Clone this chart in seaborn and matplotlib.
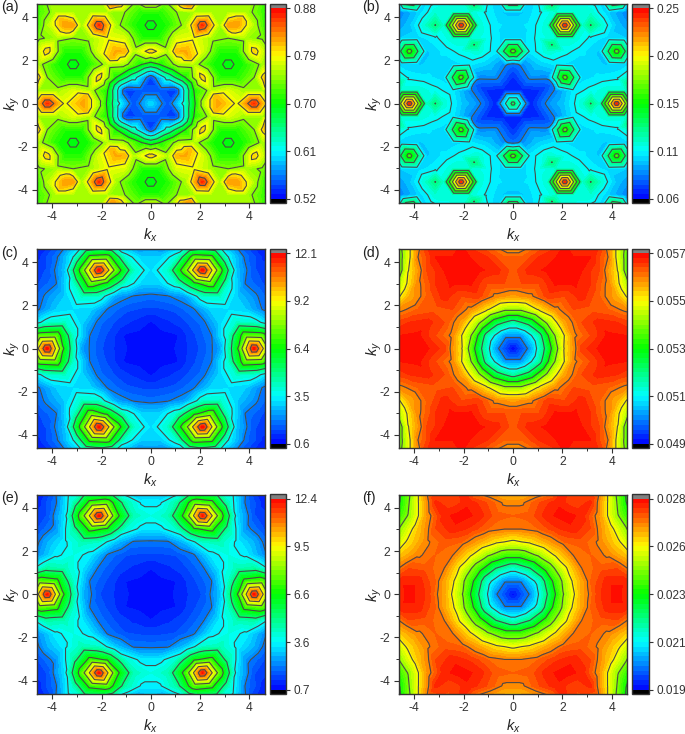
import numpy as np
import matplotlib
matplotlib.use("Agg")
import matplotlib.pyplot as plt
import matplotlib.tri as mtri
import seaborn as sns

# k-points of the irreducible wedge, as indices on a triangular lattice
LAT_I = [0,1,2,3,4,5,6,7,8,
         1,2,3,4,5,6,7,8,
         2,3,4,5,6,7,8,
         3,4,5,6,7,8,
         4,5,6,7,
         5,6]
LAT_J = [0]*9 + [1]*8 + [2]*7 + [3]*6 + [4]*4 + [5]*2

vals_a = [.60,.548,.625,.755,.82,.785,.865,.76,.76,
          .545,.70,.76,.775,.755,.755,.76,.76,
          .805,.71,.71,.745,.825,.76,.75,
          .695,.71,.755,.76,.72,.70,
          .805,.74,.69,.70,
          .72,.72]
vals_b = [.14,.066,.0865,.098,.115,.115,.245,.115,.108,
          .068,.086,.104,.11,.115,.115,.115,.10,
          .165,.10,.104,.106,.118,.098,.165,
          .10,.097,.10,.096,.085,.085,
          .165,.098,.085,.085,
          .085,.085]
vals_c = [.7,.75,1.1,1.55,2.4,6.1,12.0,6.8,3.0,
          .85,1.4,2.0,4.0,7.2,7.0,3.5,1.8,
          1.85,3.0,4.1,3.9,2.8,1.9,1.0,
          3.1,2.9,2.0,1.5,1.1,.9,
          2.2,1.45,1.2,.9,
          1.2,1.0]
vals_d = [.0490,.0502,.0524,.0551,.0565,.05685,.05695,.0568,.0565,
          .0516,.0542,.0559,.0564,.05685,.0568,.0568,.0566,
          .0557,.0564,.0567,.0566,.0564,.0560,.0549,
          .0563,.0562,.0559,.0551,.0538,.0530,
          .0556,.0545,.0525,.0520,
          .0525,.0515]
vals_e = [.8,.9,1.2,1.6,2.9,6.4,12.2,7.0,4.0,
          1.0,1.5,2.1,4.2,7.0,7.4,4.3,3.1,
          2.05,3.4,4.4,4.6,3.3,2.1,1.3,
          3.9,3.5,2.4,1.6,1.15,.9,
          2.7,1.6,1.2,.95,
          1.15,.95]
vals_f = [.0191,.0202,.0224,.0248,.0265,.0275,.0279,.0274,.0272,
          .0216,.0240,.0259,.0271,.0277,.0277,.0276,.0269,
          .0256,.0269,.0272,.0273,.0266,.0257,.0245,
          .0271,.0268,.0262,.0248,.0236,.0225,
          .0260,.0248,.0232,.0222,
          .0228,.0218]

# additional finer k-points seen in single panels: (i, j, value)
extra_a = [(3.5,.5,.815),(1.5,1.5,.68),(6,1.5,.825),(6.5,2,.81),(5.5,2,.80)]
extra_b = [(1.5,1.5,.08),(4.5,0,.132),(6,1.5,.132)]

names = ["(a)","(b)","(c)","(d)","(e)","(f)"]
ranges = [(.52,.88),(.06,.25),(.6,12.1),(.049,.057),(.7,12.4),(.019,.028)]
tick_labels = [["0.52","0.61","0.70","0.79","0.88"],
               ["0.06","0.11","0.15","0.20","0.25"],
               ["0.6","3.5","6.4","9.2","12.1"],
               ["0.049","0.051","0.053","0.055","0.057"],
               ["0.7","3.6","6.6","9.5","12.4"],
               ["0.019","0.021","0.023","0.026","0.028"]]
all_vals = [vals_a,vals_b,vals_c,vals_d,vals_e,vals_f]
all_extra = [extra_a,extra_b,[],[],[],[]]

sns.set_theme(style="ticks", font="Liberation Sans")
plt.rcParams.update({"mathtext.fontset":"custom",
                     "mathtext.it":"Liberation Sans:italic",
                     "mathtext.rm":"Liberation Sans",
                     "axes.unicode_minus":False,
                     "axes.edgecolor":"#333333",
                     "axes.linewidth":1.0,
                     "xtick.color":"#333333","ytick.color":"#333333",
                     "text.color":"#222222","axes.labelcolor":"#222222"})

W, H = 685, 734
STEP = 0.7
cmap = sns.blend_palette(["#0000ff","#00ffff","#00ff00","#ffff00","#ff0000"], as_cmap=True)
cmap = cmap.copy()
cmap.set_under("#000000")
cmap.set_over("#808080")

def expand(vals, extra):
    ii = list(LAT_I) + [e[0] for e in extra]
    jj = list(LAT_J) + [e[1] for e in extra]
    vv = list(vals) + [e[2] for e in extra]
    pts = {}
    for i, j, v in zip(ii, jj, vv):
        x0 = STEP*(i + j/2)
        y0 = STEP*j*np.sqrt(3)/2
        for k in range(6):
            a = k*np.pi/3
            for s in (1, -1):
                x = x0*np.cos(a) - s*y0*np.sin(a)
                y = x0*np.sin(a) + s*y0*np.cos(a)
                pts[(round(x,3), round(y,3))] = v
    xy = np.array(list(pts.keys()))
    return xy[:,0], xy[:,1], np.array(list(pts.values()))

def px_axes(fig, l, r, t, b):
    return fig.add_axes([l/W, 1-b/H, (r-l)/W, (b-t)/H])

fig = plt.figure(figsize=(W/100, H/100), dpi=100)
cols = [(37,264.5,270,286,1),(399,627,632,649,362)]
rows = [(4,203),(249,448),(494.5,694)]

for n in range(6):
    l,r,cl,cr,lx = cols[n%2]
    t,b = rows[n//2]
    ax = px_axes(fig,l,r,t,b)
    x,y,z = expand(all_vals[n], all_extra[n])
    tri = mtri.Triangulation(x,y)
    vmin,vmax = ranges[n]
    levels = np.linspace(vmin,vmax,41)
    cs = ax.tricontourf(tri,z,levels=levels,cmap=cmap,extend="both")
    cs.set_edgecolor("face")
    cs.set_linewidth(0.2)
    lines = np.linspace(vmin,vmax,9)[1:-1]
    ax.tricontour(tri,z,levels=lines,colors="#4a4a4a",linewidths=0.8)
    ax.set_xlim(-4.62,4.62); ax.set_ylim(-4.62,4.62)
    ax.set_xticks([-4,-2,0,2,4]); ax.set_yticks([-4,-2,0,2,4])
    ax.set_xticks([-3,-1,1,3],minor=True); ax.set_yticks([-3,-1,1,3],minor=True)
    ax.tick_params(which="major",length=3.5,width=0.8,labelsize=8.7,pad=2.5)
    ax.tick_params(which="minor",length=2,width=0.7)
    ax.set_xlabel(r"$k_x$",fontsize=10.5,labelpad=2)
    ax.set_ylabel(r"$k_y$",fontsize=10.5,labelpad=-3)
    sns.despine(ax=ax,top=False,right=False)
    ax.set_axisbelow(False)
    for sp in ax.spines.values():
        sp.set_zorder(5)
    fig.text(lx/W,1-(t+3.5)/H,names[n],fontsize=10.3,va="center",ha="left")

    cax = px_axes(fig,cl,cr,t,b)
    cb = fig.colorbar(cs,cax=cax,extend="both",extendfrac=0.022,extendrect=True,drawedges=False)
    cb.set_ticks(np.linspace(vmin,vmax,5))
    cb.set_ticklabels(tick_labels[n])
    cb.ax.minorticks_off()
    cb.ax.tick_params(length=3,width=0.8,labelsize=8.5,pad=2.5)
    cb.outline.set_edgecolor("#333333")
    cb.outline.set_linewidth(1.0)

fig.savefig("out.png",dpi=100)
